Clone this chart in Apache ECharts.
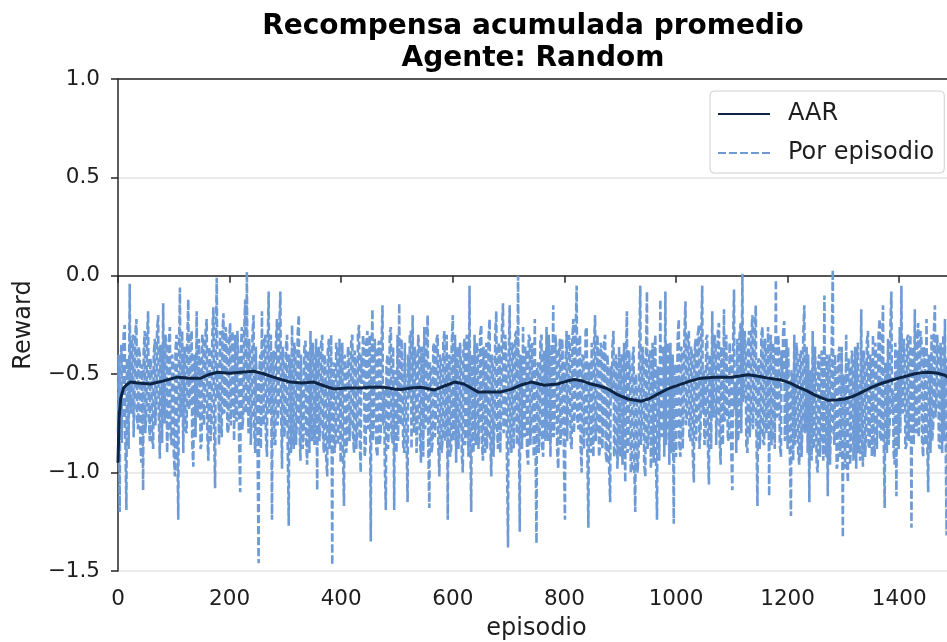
<!DOCTYPE html>
<html>
<head>
<meta charset="utf-8">
<script src="https://cdn.jsdelivr.net/npm/echarts@6/dist/echarts.min.js"></script>
<style>
html,body{margin:0;padding:0;background:#fff;}
#chart{width:947px;height:642px;}
</style>
</head>
<body>
<div id="chart"></div>
<script>
// ---- data ----
const titleLines = ['Recompensa acumulada promedio', 'Agente: Random'];
const xTickValues = [0, 200, 400, 600, 800, 1000, 1200, 1400];
const yTickValues = [-1.5, -1.0, -0.5, 0.0, 0.5, 1.0];
const seriesNames = ['AAR', 'Por episodio'];

// per-episode reward at episodes 0, 3, 6, ... (3i)
const episodeStep = 3;
const perEpisodeA = [
-0.80,-1.20,-0.35,-0.62,-0.25,-1.19,-0.45,-0.04,-0.70,-0.30,
-0.55,-0.22,-0.78,-0.40,-0.95,-1.09,-0.28,-0.66,-0.18,-0.84,
-0.48,-0.88,-0.32,-0.60,-0.20,-0.93,-0.42,-0.14,-0.75,-0.38,
-0.70,-0.26,-0.86,-0.45,-1.02,-0.30,-1.24,-0.06,-0.58,-0.90,
-0.36,-0.80,-0.12,-0.64,-0.28,-0.97,-0.44,-0.18,-0.72,-0.50,
-0.85,-0.33,-0.62,-0.22,-0.94,-0.40,-0.70,-0.16,-1.08,-0.01,
-0.55,-0.28,-0.82,-0.19,-0.66,-0.35,-0.78,-0.24,-0.60,-0.42,
-0.30,-0.74,-0.48,-1.10,-0.26,-0.68,-0.12,0.02,-0.80,-0.44,
-0.62,-0.20,-0.90,-0.35,-1.46,-0.40,-0.18,-0.76,-0.30,-0.92,
-0.08,-0.55,-1.24,-0.38,-0.86,-0.22,-0.65,-0.08,-0.98,-0.46,
-0.72,-0.30,-1.27,-0.50,-0.25,-0.88,-0.42,-0.70,-0.20,-0.94,
-0.40,-0.78,-0.33,-0.96,-0.55,-0.28,-0.84,-0.46,-0.64,-1.09,
-0.36,-0.72,-0.30,-0.90,-0.50,-1.02,-0.32,-0.62,-1.47,-0.44,
-0.82,-0.38,-0.66,-0.95,-0.34,-1.17,-0.52,-0.80,-0.40,-0.70,
-0.30,-0.90,-0.45,-0.75,-0.25,-1.00,-0.55,-0.36,-0.86,-0.28,
-0.62,-1.35,-0.17,-0.70,-0.42,-0.92,-0.33,-0.80,-0.15,-0.58,
-1.19,-0.40,-0.72,-0.26,-0.85,-1.19,-0.48,-0.30,-0.14,-0.76,
-0.52,-0.90,-0.35,-1.15,-0.62,-0.28,-0.20,-0.80,-0.44,-0.68,
-0.38,-0.95,-0.55,-0.26,-0.74,-0.20,-1.18,-0.48,-0.84,-0.34,
-0.66,-0.30,-1.02,-0.45,-0.82,-0.28,-0.70,-1.24,-0.40,-0.88,
-0.20,-0.60,-0.95,-0.36,-0.72,-0.48,-1.00,-0.32,-0.78,-0.42,
-0.05,-1.20,-0.55,-0.30,-0.86,-0.40,-0.68,-0.25,-0.94,-0.50,
-0.34,-0.78,-0.22,-1.02,-0.46,-0.70,-0.18,-0.88,-0.38,-0.62,
-0.14,-0.72,-0.45,-1.38,-0.15,-0.90,-0.36,-0.65,-0.28,0.00,
-1.30,-0.50,-0.26,-0.82,-0.40,-0.96,-0.32,-0.70,-0.55,-0.22,
-1.36,-0.44,-0.76,-0.30,-0.92,-0.48,-0.26,-0.84,-0.58,-0.35,
-0.15,-0.66,-0.40,-0.98,-0.32,-0.72,-0.50,-1.24,-0.28,-0.60,
-0.36,-0.88,-0.22,-0.64,-0.05,-0.78,-0.30,-1.00,-0.42,-0.70,
-0.26,-1.28,-0.55,-0.34,-0.92,-0.20,-0.74,-0.45,-0.86,-0.38,
-0.68,-0.30,-0.95,-0.52,-1.15,-0.62,-0.28,-0.88,-0.44,-0.76,
-0.92,-0.40,-0.70,-1.05,-0.18,-0.84,-0.55,-0.98,-0.36,-1.20,
-0.62,-0.90,-0.05,-0.74,-0.46,-1.02,-0.08,-0.80,-0.38,-0.66,
-0.95,-0.30,-1.24,-0.58,-0.12,-0.82,-0.40,-0.08,-0.72,-0.50,
-0.34,-0.88,-1.26,-0.45,-0.66,-0.22,-0.92,-0.38,-0.60,-0.13,
-0.70,-0.28,-0.84,-0.42,-1.05,-0.32,-0.62,-0.25,-0.78,-0.05,
-0.48,-0.80,-0.30,-1.06,-0.44,-0.18,-0.72,-0.36,-0.58,-0.24,
-0.96,-0.40,-0.17,-0.66,-0.30,-0.82,-0.45,-1.09,-0.07,-0.55,
-0.32,-0.76,-0.24,0.01,-0.62,-0.38,-0.90,-0.28,-0.70,-0.20,
-0.58,-0.15,-1.17,-0.42,-0.74,-0.26,-0.86,-0.36,-0.64,-1.12,
-0.30,-0.80,-0.48,-0.02,-0.70,-0.40,-0.92,-0.52,-0.23,-0.66,
-0.88,-0.35,-1.22,-0.55,-0.30,-0.82,-0.44,-0.96,-0.38,-0.72,
-0.15,-0.62,-0.90,-1.15,-0.48,-0.28,-0.84,-0.58,-1.00,-0.40,
-0.76,-0.52,-0.10,-0.92,-1.12,-0.40,-0.68,0.03,-0.86,-0.55,
-0.95,-0.36,-0.78,-1.33,-0.60,-0.30,-1.05,-0.48,-0.82,-0.42,
-0.70,-0.98,-0.34,-0.55,-0.17,-0.97,-0.45,-0.76,-0.28,-0.88,
-0.50,-0.30,-0.92,-0.42,-0.66,-0.22,-0.84,-0.15,-1.18,-0.48,
-0.32,-0.74,-0.08,-0.58,-0.96,-1.12,-0.38,-0.26,-0.05,-0.70,
-0.44,-0.86,-0.30,-0.62,-1.28,-0.36,-0.17,-0.80,-0.24,-0.58,
-0.34,-0.92,-0.46,-0.22,-1.10,-0.52,-0.30,-0.76,-0.15,-0.60,
-0.40,-0.88,-0.52,-0.30,-0.22,-1.32,-0.70,-0.45,-0.96,-0.58
];
// per-episode reward at episodes 1, 4, 7, ... (3i+1)
const perEpisodeB = [
-0.40,-0.50,-0.85,-0.30,-0.78,-0.42,-0.88,-0.60,-0.32,-0.82,
-0.30,-0.72,-0.36,-0.86,-0.45,-0.38,-0.80,-0.32,-0.70,-0.42,
-0.82,-0.40,-0.76,-0.28,-0.70,-0.35,-0.85,-0.55,-0.30,-0.90,
-0.34,-0.80,-0.40,-0.90,-0.38,-0.74,-0.44,-0.72,-0.28,-0.46,
-0.78,-0.35,-0.68,-0.30,-0.85,-0.40,-0.82,-0.66,-0.32,-0.88,
-0.30,-0.76,-0.28,-0.80,-0.36,-0.84,-0.30,-0.74,-0.40,-0.62,
-0.86,-0.72,-0.30,-0.70,-0.26,-0.80,-0.34,-0.76,-0.28,-0.84,
-0.72,-0.28,-0.84,-0.40,-0.78,-0.30,-0.70,-0.55,-0.32,-0.86,
-0.30,-0.78,-0.36,-0.82,-0.50,-0.88,-0.70,-0.32,-0.80,-0.40,
-0.70,-0.30,-0.44,-0.84,-0.34,-0.76,-0.28,-0.62,-0.36,-0.82,
-0.36,-0.84,-0.40,-0.90,-0.72,-0.34,-0.86,-0.30,-0.76,-0.40,
-0.88,-0.36,-0.82,-0.38,-0.90,-0.70,-0.34,-0.86,-0.32,-0.50,
-0.84,-0.34,-0.80,-0.40,-0.92,-0.38,-0.88,-0.30,-0.60,-0.90,
-0.34,-0.86,-0.32,-0.48,-0.88,-0.40,-0.90,-0.36,-0.84,-0.32,
-0.80,-0.38,-0.88,-0.30,-0.82,-0.40,-0.30,-0.92,-0.34,-0.78,
-0.30,-0.48,-0.84,-0.32,-0.88,-0.36,-0.86,-0.40,-0.76,-0.94,
-0.46,-0.88,-0.30,-0.80,-0.36,-0.50,-0.90,-0.84,-0.62,-0.32,
-0.86,-0.34,-0.82,-0.40,-0.30,-0.88,-0.70,-0.36,-0.90,-0.30,
-0.80,-0.36,-0.92,-0.78,-0.32,-0.86,-0.44,-0.90,-0.36,-0.82,
-0.32,-0.86,-0.40,-0.90,-0.34,-0.84,-0.30,-0.52,-0.92,-0.36,
-0.84,-0.30,-0.42,-0.88,-0.34,-0.90,-0.38,-0.86,-0.30,-0.92,
-0.72,-0.40,-0.90,-0.82,-0.34,-0.88,-0.30,-0.84,-0.36,-0.90,
-0.88,-0.32,-0.80,-0.40,-0.92,-0.30,-0.76,-0.34,-0.90,-0.28,
-0.80,-0.30,-0.92,-0.44,-0.84,-0.34,-0.88,-0.30,-0.86,-0.60,
-0.40,-0.88,-0.80,-0.36,-0.90,-0.30,-0.86,-0.34,-0.92,-0.78,
-0.46,-0.90,-0.32,-0.86,-0.38,-0.84,-0.80,-0.30,-0.92,-0.82,
-0.82,-0.30,-0.88,-0.40,-0.86,-0.32,-0.90,-0.44,-0.84,-0.30,
-0.84,-0.34,-0.80,-0.30,-0.72,-0.36,-0.86,-0.40,-0.88,-0.28,
-0.86,-0.44,-0.90,-0.82,-0.36,-0.84,-0.30,-0.92,-0.34,-0.88,
-0.34,-0.90,-0.40,-0.96,-0.46,-0.36,-0.92,-0.40,-0.98,-0.36,
-0.42,-0.96,-0.34,-0.48,-0.90,-0.38,-1.00,-0.42,-0.94,-0.50,
-1.00,-0.40,-0.86,-0.36,-0.96,-0.44,-0.88,-0.40,-0.98,-0.34,
-0.42,-0.90,-0.46,-0.94,-0.78,-0.36,-0.92,-0.86,-0.34,-0.96,
-0.90,-0.40,-0.50,-0.92,-0.32,-0.86,-0.36,-0.88,-0.30,-0.76,
-0.32,-0.82,-0.36,-0.90,-0.40,-0.84,-0.30,-0.88,-0.34,-0.70,
-0.86,-0.32,-0.84,-0.40,-0.88,-0.70,-0.30,-0.86,-0.28,-0.82,
-0.36,-0.86,-0.74,-0.30,-0.84,-0.34,-0.88,-0.40,-0.68,-0.90,
-0.84,-0.30,-0.80,-0.64,-0.28,-0.86,-0.36,-0.82,-0.30,-0.78,
-0.28,-0.76,-0.44,-0.88,-0.30,-0.84,-0.32,-0.80,-0.26,-0.48,
-0.86,-0.34,-0.88,-0.72,-0.30,-0.86,-0.38,-0.28,-0.84,-0.32,
-0.36,-0.90,-0.48,-0.94,-0.86,-0.34,-0.90,-0.40,-0.92,-0.30,
-0.80,-0.36,-0.40,-0.50,-0.94,-0.88,-0.36,-0.96,-0.42,-0.92,
-0.38,-0.94,-0.80,-0.40,-0.46,-0.96,-0.36,-0.78,-0.40,-0.98,
-0.40,-0.92,-0.36,-0.50,-0.98,-0.90,-0.42,-0.96,-0.38,-0.94,
-0.36,-0.40,-0.90,-0.94,-0.76,-0.38,-0.92,-0.34,-0.86,-0.40,
-0.92,-0.84,-0.34,-0.88,-0.30,-0.82,-0.36,-0.78,-0.44,-0.90,
-0.86,-0.30,-0.70,-0.90,-0.34,-0.40,-0.88,-0.80,-0.66,-0.32,
-0.88,-0.32,-0.84,-0.30,-0.48,-0.86,-0.76,-0.34,-0.82,-0.28,
-0.84,-0.36,-0.86,-0.80,-0.40,-0.90,-0.84,-0.30,-0.72,-0.30,
-0.86,-0.34,-0.90,-0.84,-0.76,-0.42,-0.30,-0.88,-0.36,-0.80
];

// moving average reward (AAR), read at these episodes
const aarEpisodes = [0,2,5,10,15,22,35,58,80,106,130,148,165,178,200,220,243,258,273,290,309,330,351,370,387,410,435,455,477,495,507,525,543,567,585,603,620,645,665,686,704,722,740,764,788,805,818,833,848,863,878,896,914,938,952,968,985,1003,1025,1045,1069,1099,1129,1148,1165,1189,1205,1219,1235,1248,1262,1273,1290,1302,1315,1327,1348,1369,1385,1399,1415,1428,1440,1452,1467,1482,1494];
const aarValues = [-0.95,-0.72,-0.62,-0.57,-0.555,-0.54,-0.545,-0.55,-0.535,-0.515,-0.52,-0.52,-0.50,-0.49,-0.495,-0.49,-0.485,-0.495,-0.51,-0.525,-0.54,-0.545,-0.54,-0.56,-0.575,-0.57,-0.57,-0.565,-0.566,-0.575,-0.578,-0.57,-0.566,-0.58,-0.56,-0.54,-0.55,-0.59,-0.59,-0.59,-0.577,-0.555,-0.54,-0.556,-0.55,-0.535,-0.527,-0.535,-0.55,-0.56,-0.575,-0.605,-0.626,-0.637,-0.625,-0.60,-0.575,-0.557,-0.535,-0.52,-0.515,-0.515,-0.503,-0.51,-0.52,-0.53,-0.545,-0.566,-0.585,-0.605,-0.622,-0.633,-0.63,-0.626,-0.615,-0.60,-0.57,-0.546,-0.532,-0.52,-0.508,-0.498,-0.492,-0.49,-0.494,-0.505,-0.53];

// ---- build ----
const perEpisodeData = [];
perEpisodeA.forEach((v, i) => {
  perEpisodeData.push([i * episodeStep, v]);
  perEpisodeData.push([i * episodeStep + 1, perEpisodeB[i]]);
});
const aarData = aarEpisodes.map((e, i) => [e, aarValues[i]]);

const FONT = 'DejaVu Sans';
const TXT = '#1e1e1e';
const SPINE = '#262626';

const fmtY = v => (v < 0 ? '\u2212' : '') + Math.abs(v).toFixed(1);

const chart = echarts.init(document.getElementById('chart'), null, {renderer: 'canvas'});
chart.setOption({
  animation: false,
  backgroundColor: '#ffffff',
  title: {
    text: titleLines.join('\n'),
    left: 528,
    top: 6,
    textAlign: 'center',
    textStyle: {fontFamily: FONT, fontWeight: 'bold', fontSize: 28, lineHeight: 32, color: '#000'}
  },
  legend: {
    data: seriesNames,
    orient: 'vertical',
    left: 710,
    top: 91,
    padding: [11, 10, 8, 7],
    itemWidth: 52,
    itemHeight: 14,
    itemGap: 15,
    backgroundColor: 'rgba(255,255,255,0.85)',
    borderColor: '#d0d0d0',
    borderWidth: 1,
    borderRadius: 4,
    itemStyle: {opacity: 0},
    textStyle: {fontFamily: FONT, fontSize: 24, color: TXT, padding: [0, 0, 0, 13]}
  },
  grid: {left: 118, right: -8, top: 79, bottom: 71, containLabel: false, outerBoundsMode: 'none'},
  xAxis: [{
    type: 'value',
    min: 0, max: 1500, interval: 200,
    name: 'episodio',
    nameLocation: 'middle',
    nameGap: 46,
    nameTextStyle: {fontFamily: FONT, fontSize: 24, color: TXT},
    axisLine: {show: true, lineStyle: {color: SPINE, width: 1.5}},
    axisTick: {show: true, length: 7, lineStyle: {color: SPINE, width: 1.5}},
    axisLabel: {fontFamily: FONT, fontSize: 21.5, color: TXT, margin: 17, showMaxLabel: false,
      formatter: v => xTickValues.includes(v) ? String(v) : ''},
    splitLine: {show: false}
  }, {
    type: 'value',
    position: 'top',
    min: 0, max: 1500,
    z: 5,
    axisLine: {show: true, lineStyle: {color: SPINE, width: 1.5}},
    axisTick: {show: false},
    axisLabel: {show: false},
    splitLine: {show: false}
  }],
  yAxis: {
    type: 'value',
    min: yTickValues[0], max: yTickValues[yTickValues.length - 1], interval: 0.5,
    name: 'Reward',
    nameLocation: 'middle',
    nameGap: 82,
    nameTextStyle: {fontFamily: FONT, fontSize: 24, color: TXT},
    axisLine: {show: true, lineStyle: {color: SPINE, width: 1.5}},
    axisTick: {show: true, length: 7, lineStyle: {color: SPINE, width: 1.5}},
    axisLabel: {fontFamily: FONT, fontSize: 21.5, color: TXT, margin: 18, formatter: fmtY},
    splitLine: {show: true, lineStyle: {color: '#ebebeb', width: 2}}
  },
  series: [
    {
      name: seriesNames[1],
      type: 'line',
      xAxisIndex: 0,
      data: perEpisodeData,
      symbol: 'none',
      lineStyle: {color: '#6e9bd5', width: 2.6, type: [8, 3]},
      itemStyle: {color: '#6e9bd5'},
      z: 2
    },
    {
      name: seriesNames[0],
      type: 'line',
      xAxisIndex: 0,
      data: aarData,
      symbol: 'none',
      lineStyle: {color: '#0d2444', width: 3},
      itemStyle: {color: '#0d2444'},
      z: 3
    }
  ]
});
</script>
</body>
</html>
